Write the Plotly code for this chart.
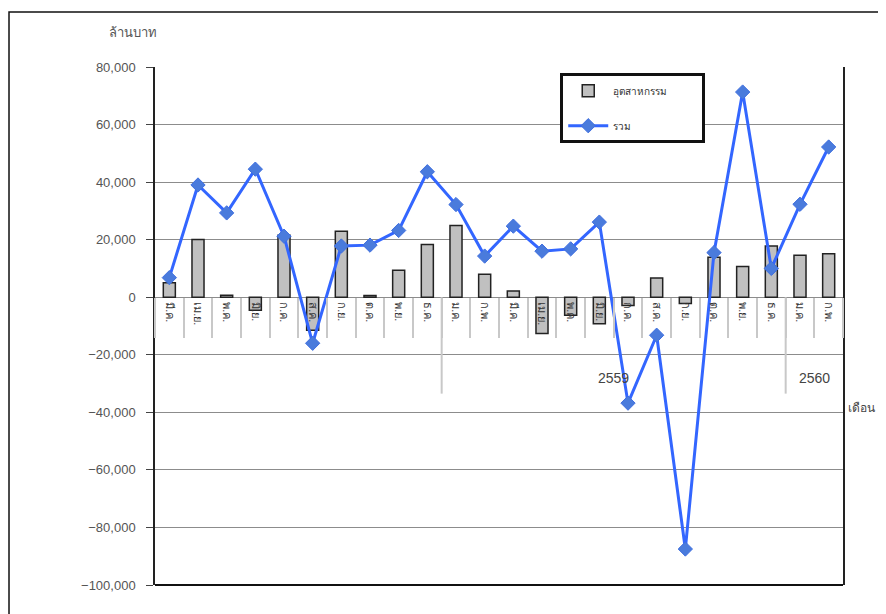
import plotly.graph_objects as go

months = ["มี.ค.", "เม.ย.", "พ.ค.", "มิ.ย.", "ก.ค.", "ส.ค.", "ก.ย.", "ต.ค.", "พ.ย.", "ธ.ค.",
          "ม.ค.", "ก.พ.", "มี.ค.", "เม.ย.", "พ.ค.", "มิ.ย.", "ก.ค.", "ส.ค.", "ก.ย.", "ต.ค.", "พ.ย.", "ธ.ค.",
          "ม.ค.", "ก.พ."]
years = ["2558"] * 10 + ["2559"] * 12 + ["2560"] * 2
shown_years = ["2559", "2560"]

industry = [5000, 20100, 700, -4500, 21500, -11500, 22900, 600, 9400, 18300,
            24900, 8000, 2200, -12600, -6300, -9200, -2900, 6700, -2200, 13900,
            10700, 17800, 14600, 15100]
total = [6800, 39000, 29300, 44500, 21200, -16000, 17800, 18100, 23200, 43600,
         32200, 14300, 24700, 16000, 16800, 26100, -36800, -13200, -87500, 15500,
         71300, 10000, 32300, 52200]

y_min, y_max = -100000, 80000
xs = list(range(len(months)))
FONT = "Liberation Sans, Arial, Noto Sans, sans-serif"
PAD = "\u2003" * 3  # invisible padding to widen the legend box

fig = go.Figure()
fig.add_trace(go.Bar(
    x=xs, y=industry, name="อุตสาหกรรม" + PAD, width=0.42,
    marker=dict(color="#c0c0c0", line=dict(color="#222222", width=1.5)),
    legendgroup="a",
))
fig.add_trace(go.Scatter(
    x=xs, y=total, name="รวม", mode="lines+markers",
    line=dict(color="#3366ff", width=3),
    marker=dict(symbol="diamond", size=11, color="#4a7bdc", line=dict(color="#3f6fe0", width=1)),
    legendgroup="b",
))

shapes = []
# year group dividers
for i in range(1, len(years)):
    if years[i] != years[i - 1]:
        shapes.append(dict(type="line", xref="x", yref="y", x0=i - 0.5, x1=i - 0.5,
                           y0=0, y1=-33500, line=dict(color="#c8c8c8", width=2)))
# bottom axis line
shapes.append(dict(type="line", xref="paper", yref="paper", x0=0, x1=1, y0=0, y1=0,
                   line=dict(color="#111111", width=2)))
# outer chart frame
shapes.append(dict(type="rect", xref="paper", yref="paper", x0=-0.2122, x1=1.08,
                   y0=-0.08, y1=1.106, line=dict(color="#111111", width=1.5)))

annotations = []
for yr in shown_years:
    idx = [i for i, v in enumerate(years) if v == yr]
    annotations.append(dict(x=(idx[0] + idx[-1]) / 2, y=-28000, xref="x", yref="y",
                            text=yr, showarrow=False, font=dict(size=14, color="#444", family=FONT)))
annotations.append(dict(x=-0.07, y=1.085, xref="paper", yref="paper", text="ล้านบาท",
                        showarrow=False, font=dict(size=13, color="#555", family=FONT)))
annotations.append(dict(x=1.005, y=0.325, xref="paper", yref="paper", text="เดือน",
                        xanchor="left", showarrow=False, font=dict(size=12, color="#444", family=FONT)))
fig.update_layout(annotations=annotations, shapes=shapes)

zero_pos = (0 - y_min) / (y_max - y_min)

fig.update_layout(
    width=878, height=606,
    margin=dict(l=147, r=43, t=59, b=29),
    paper_bgcolor="white", plot_bgcolor="white",
    font=dict(family=FONT, color="#444"),
    bargap=0.5,
    showlegend=True,
    legend=dict(x=0.589, y=0.988, xanchor="left", yanchor="top",
                bordercolor="#111111", borderwidth=3, bgcolor="white",
                font=dict(size=10, color="#333", family=FONT),
                traceorder="grouped", tracegroupgap=16, itemwidth=40),
    xaxis=dict(
        range=[-0.5, len(months) - 0.5],
        tickmode="array", tickvals=xs, ticktext=months, tickangle=90,
        tickfont=dict(size=11, color="#333"),
        anchor="free", position=zero_pos,
        showgrid=False, zeroline=False, showline=False, ticks="",
        ticklabelstandoff=4,
        minor=dict(tickmode="linear", tick0=-0.5, dtick=1, ticks="outside",
                   ticklen=40, tickcolor="#c8c8c8", tickwidth=2),
    ),
    yaxis=dict(
        range=[y_min, y_max], dtick=20000, tickformat=",",
        tickfont=dict(size=13, color="#555"),
        showgrid=True, gridcolor="#8c8c8c", gridwidth=1,
        zeroline=True, zerolinecolor="#8c8c8c", zerolinewidth=1,
        showline=True, linecolor="#222222", linewidth=1.5, mirror=True,
        ticks="outside", ticklen=7, tickcolor="#444", ticklabelstandoff=8,
    ),
)

fig.write_html("out.html")
